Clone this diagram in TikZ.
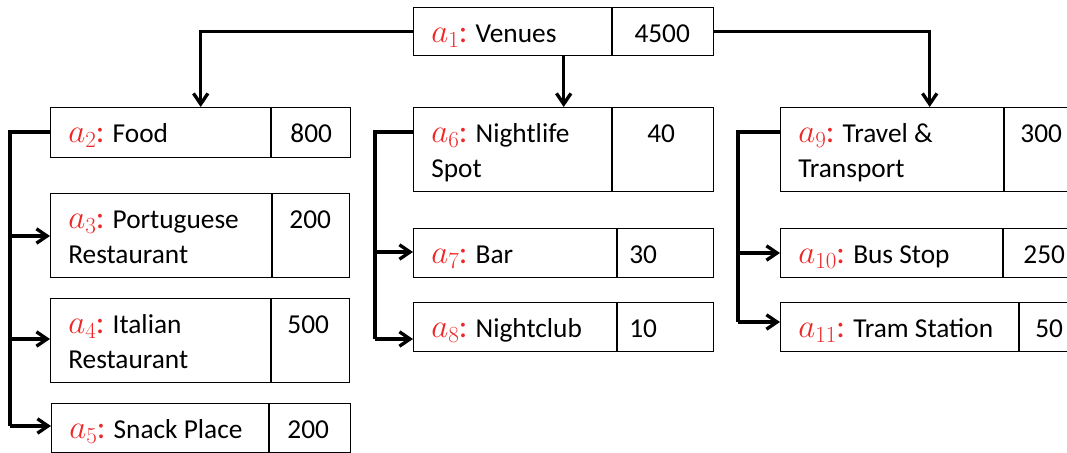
\documentclass[tikz,border=0pt]{standalone}
\usepackage{fontspec}
\setmainfont{Carlito}
\usetikzlibrary{calc,arrows.meta}
\definecolor{attred}{RGB}{238,40,40}
\newcommand{\anum}[1]{\textcolor{attred}{\fontsize{24}{26}\selectfont$a_{#1}$\hspace{-0.5pt}:}}

\begin{document}
\begin{tikzpicture}[x=0.75pt,y=-0.75pt,
  cell/.style={draw,line width=0.9pt,anchor=north west,inner sep=0pt},
  txt/.style={inner sep=0pt,align=left,font=\fontsize{20.5}{26.25}\selectfont},
  link/.style={line width=2.5pt,line join=miter},
  >={Straight Barb[length=2.8mm,width=3.8mm]}]
  \useasboundingbox (0,0) rectangle (1067,453);
  % cajas: nombre / x / y / ancho1 / ancho2 / alto / texto / valor / pos. valor
  \foreach \i/\x/\y/\wa/\wb/\h/\lab/\val/\vx in {
      1/413/7/198/101/48/{\anum{1} Venues}/4500/50,
      2/50/107/220/79/50/{\anum{2} Food}/800/40,
      3/50/193/221/77/84/{\anum{3} Portuguese\\Restaurant}/200/38,
      4/50/298/220/78/84/{\anum{4} Italian\\Restaurant}/500/37,
      5/51/403/217/81/49/{\anum{5} Snack Place}/200/39,
      6/413/107/198/101/84/{\anum{6} Nightlife\\Spot}/40/49,
      7/413/228/203/96/49/{\anum{7} Bar}/30/26,
      8/413/302/203/96/49/{\anum{8} Nightclub}/10/26,
      9/780/107/223/74/84/{\anum{9} Travel \&\\Transport}/300/37,
      10/780/228/222/82/49/{\anum{10} Bus Stop}/250/41,
      11/780/302/238/60/49/{\anum{11} Tram Station}/50/30} {
    \node[cell,minimum width={\wa*0.75pt},minimum height={\h*0.75pt}] (a\i) at (\x,\y) {};
    \node[cell,minimum width={\wb*0.75pt},minimum height={\h*0.75pt}] (v\i) at (a\i.north east) {};
    \node[txt,anchor=north west] (t\i) at ($(a\i.north west)+(18,10.5)$) {\strut\lab};
    \node[txt,anchor=north] (n\i) at ($(v\i.north west)+(\vx,10.5)$) {\strut\val};
  }
  % raiz
  \draw[link,->] (a1.west) -| ($(a2.north west)!.5!(v2.north east)$);
  \draw[link,->] ($(a1.south west)!.5!(v1.south east)$) -- ($(a6.north west)!.5!(v6.north east)$);
  \draw[link,->] (v1.east) -| ($(a9.north west)!.5!(v9.north east)$);
  % ramas
  \coordinate (s2) at (10,0);
  \coordinate (s6) at (375,0);
  \coordinate (s9) at (738,0);
  \draw[link] ($(a2.north west)+(0,25)$) -| ($(a5.north west -| s2)+(0,23)$);
  \draw[link] ($(a6.north west)+(0,25)$) -| ($(a8.north west -| s6)+(0,37)$);
  \draw[link] ($(a9.north west)+(0,25)$) -| ($(a11.north west -| s9)+(0,20)$);
  \foreach \s/\k/\d in {s2/3/43,s2/4/41,s2/5/23,s6/7/24,s6/8/37,s9/10/25,s9/11/20}
    \draw[link,->] ($(a\k.north west -| \s)+(0,\d)$) -- ($(a\k.north west)+(0,\d)$);
\end{tikzpicture}
\end{document}
